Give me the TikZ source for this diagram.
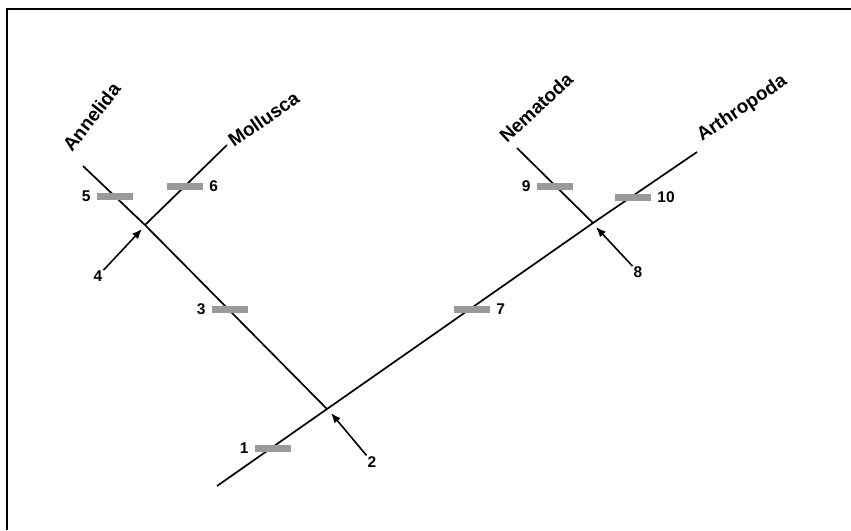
\documentclass[tikz,border=0pt]{standalone}
\usepackage{fontspec}
\setmainfont{Liberation Sans}
\usetikzlibrary{arrows.meta,positioning}
\definecolor{trait}{HTML}{9A9A9A}
\definecolor{ink}{HTML}{000000}

\begin{document}
\begin{tikzpicture}[x=1pt,y=-1pt]
  \tikzstyle{br}=[line width=1.7pt,draw=ink]
  \tikzstyle{bar}=[rectangle,fill=trait,minimum width=36pt,minimum height=7pt,inner sep=0pt]
  \tikzstyle{num}=[font=\bfseries\fontsize{15.5}{16}\selectfont,text=ink,inner sep=1pt]
  \tikzstyle{taxon}=[font=\bfseries\fontsize{19}{19}\selectfont,text=ink,anchor=base west,inner sep=0pt]
  \tikzstyle{pt}=[-{Latex[length=10pt,width=8pt]},line width=1.6pt,draw=ink]
  \useasboundingbox (0,0) rectangle (851,530);
  \draw[line width=2.5pt] (7,530) -- (7,9) -- (851,9);
  % branch points and tips
  \coordinate (root) at (217,486);
  \coordinate (n2) at (327,409);
  \coordinate (n4) at (145,225);
  \coordinate (n8) at (593,223);
  \coordinate (tA) at (83,166);
  \coordinate (tM) at (227,145);
  \coordinate (tN) at (517,148);
  \coordinate (tR) at (697,152);
  \draw[br] (root) -- (n2) -- (n8) -- (tR);
  \draw[br] (n2) -- (n4) -- (tA);
  \draw[br] (n4) -- (tM);
  \draw[br] (n8) -- (tN);
  % taxa
  \node[taxon,rotate=52] (annelida) at (72,153) {Annelida};
  \node[taxon,rotate=35] (mollusca) at (234,148) {Mollusca};
  \node[taxon,rotate=43] (nematoda) at (507,144) {Nematoda};
  \node[taxon,rotate=34] (arthropoda) at (702,142) {Arthropoda};
  % characters
  \node[bar] (bar1) at (273,448) {};
  \node[bar] (bar3) at (230,309) {};
  \node[bar] (bar5) at (115,196) {};
  \node[bar] (bar6) at (185,186) {};
  \node[bar] (bar7) at (472,309) {};
  \node[bar] (bar9) at (555,186) {};
  \node[bar] (bar10) at (633,197) {};
  \node[num,left=5pt of bar1] (lab1) {1};
  \node[num,left=5pt of bar3] (lab3) {3};
  \node[num,left=5pt of bar5] (lab5) {5};
  \node[num,right=5pt of bar6] (lab6) {6};
  \node[num,right=5pt of bar7] (lab7) {7};
  \node[num,left=5pt of bar9] (lab9) {9};
  \node[num,right=5pt of bar10] (lab10) {10};
  % nodes pointed at
  \node[num] (lab2) at (372,462) {2};
  \node[num] (lab4) at (98,276) {4};
  \node[num] (lab8) at (638,272) {8};
  \coordinate (at2) at (331,413);
  \coordinate (at4) at (142,229);
  \coordinate (at8) at (596,227);
  \draw[pt] (lab2) -- (at2);
  \draw[pt] (lab4) -- (at4);
  \draw[pt] (lab8) -- (at8);
\end{tikzpicture}
\end{document}
